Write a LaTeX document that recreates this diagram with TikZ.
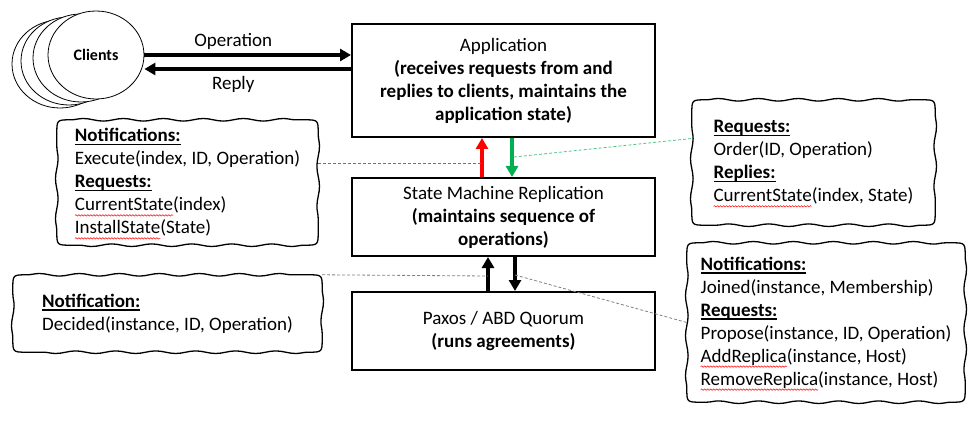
\documentclass[tikz,border=0pt]{standalone}
\usepackage{fontspec}
\setmainfont{Carlito}
\usetikzlibrary{arrows.meta, shapes.geometric, decorations.pathmorphing}

\definecolor{offgreen}{HTML}{00B050}
\newcommand{\hdr}[1]{\setbox0\hbox{\textbf{#1}}\rlap{\rule[-3.5pt]{\wd0}{1.3pt}}\box0}
\newcommand{\typo}[1]{\setbox0\hbox{#1}\rlap{\tikz[overlay]\draw[red,sharp corners,line width=0.5pt,
  decorate,decoration={snake,segment length=3pt,amplitude=0.7pt}] (0pt,-4.5pt) -- (\wd0,-4.5pt);}\box0}
% wavy rounded outline round a named node: wavy sides, plain corners
\newcommand{\wobblebox}[1]{%
  \draw[wobble] ([xshift=14pt]#1.north west)
    decorate{-- ([xshift=-14pt]#1.north east)}
    .. controls (#1.north east) .. ([yshift=-14pt]#1.north east)
    decorate{-- ([yshift=14pt]#1.south east)}
    .. controls (#1.south east) .. ([xshift=-14pt]#1.south east)
    decorate{-- ([xshift=14pt]#1.south west)}
    .. controls (#1.south west) .. ([yshift=14pt]#1.south west)
    decorate{-- ([yshift=-14pt]#1.north west)}
    .. controls (#1.north west) .. ([xshift=14pt]#1.north west) -- cycle;}

\begin{document}
\begin{tikzpicture}[x=1pt,y=-1pt,
  txt/.style={font=\fontsize{19}{23}\selectfont},
  tier/.style={draw,line width=2pt,minimum width=303pt,align=center,txt},
  bubble/.style={align=left,txt},
  wobble/.style={line width=1.3pt,
    decoration={snake,segment length=40pt,amplitude=1.3pt}},
  call/.style={-{Triangle[length=11pt,width=12pt]},line width=4pt},
  hint/.style={dash pattern=on 3pt off 2pt,line width=0.8pt}]
  \useasboundingbox (0,0) rectangle (976,422);

  % clients
  \foreach \cx/\cy in {60/64,69/61,81/58}
    \draw[fill=white,line width=0.8pt] (\cx,\cy) ellipse [x radius=48pt,y radius=44pt];
  \node[ellipse,draw,fill=white,line width=0.8pt,minimum width=96pt,minimum height=88pt,
        inner sep=0pt,font=\bfseries\fontsize{16}{19}\selectfont] (clients) at (96,55) {Clients};

  % layers
  \node[tier,minimum height=113pt] (app) at (503.5,80.5)
       {Application\\ \textbf{(receives requests from and}\\
        \textbf{replies to clients, maintains the}\\ \textbf{application state)}};
  \node[tier,minimum height=78pt] (smr) at (503.5,217)
       {State Machine Replication\\ \textbf{(maintains sequence of}\\ \textbf{operations)}};
  \node[tier,minimum height=78pt] (paxos) at (503.5,331)
       {Paxos / ABD Quorum\\ \textbf{(runs agreements)}};

  % interfaces
  \node[bubble,minimum width=261pt,minimum height=125pt] (notesL) at (187.5,182.5)
       {\hdr{Notifications:}\\ Execute(index, ID, Operation)\\ \hdr{Requests:}\\
        \typo{CurrentState}(index)\\ \typo{InstallState}(State)};
  \node[bubble,minimum width=243pt,minimum height=125pt] (reqR) at (813.5,162.5)
       {\hdr{Requests:}\\ Order(ID, Operation)\\ \hdr{Replies:}\\ \typo{CurrentState}(index, State)};
  \node[bubble,minimum width=309pt,minimum height=77pt] (notifL) at (167.5,313.5)
       {\hdr{Notification:}\\ Decided(instance, ID, Operation)};
  \node[bubble,minimum width=278pt,minimum height=159pt] (notesR) at (826,322.5)
       {\hdr{Notifications:}\\ Joined(instance, Membership)\\ \hdr{Requests:}\\
        Propose(instance, ID, Operation)\\ \typo{AddReplica}(instance, Host)\\
        \typo{RemoveReplica}(instance, Host)};
  \foreach \b in {notesL,reqR,notifL,notesR}{\wobblebox{\b}}

  % client traffic
  \draw[call] (clients.east) -- (clients.east -| app.west)
    node[pos=0.43,above=0pt,txt]{Operation};
  \draw[call] ([yshift=-14pt]clients.east -| app.west) -- ([yshift=-14pt]clients.east)
    node[pos=0.57,below=2pt,txt]{Reply};

  % up and down calls
  \draw[call,red] ([xshift=-21.5pt]smr.north) -- ([xshift=-21.5pt]app.south);
  \draw[call,offgreen] ([xshift=8.5pt]app.south) -- ([xshift=8.5pt]smr.north);
  \draw[call] ([xshift=-15.5pt]paxos.north) -- ([xshift=-15.5pt]smr.south);
  \draw[call] ([xshift=11.5pt]smr.south) -- ([xshift=11.5pt]paxos.north);

  % hints to the interfaces
  \coordinate (redtap) at (482,163);
  \coordinate (greentap) at (514,157);
  \coordinate (uptap) at (488,276);
  \coordinate (downtap) at (515,275);
  \draw[hint,red!80] (notesL.east |- redtap) -- (redtap);
  \draw[hint,offgreen!70] (greentap) -- ([yshift=24pt]reqR.west);
  \draw[hint,gray] (notifL.north east) -- (uptap);
  \draw[hint,gray] (downtap) -- (notesR.west);
\end{tikzpicture}
\end{document}
